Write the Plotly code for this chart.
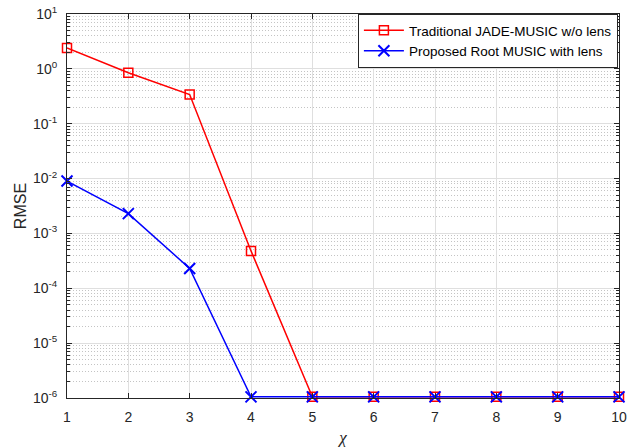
import plotly.graph_objects as go

# Spatial sampling factor chi
chi = [1, 2, 3, 4, 5, 6, 7, 8, 9, 10]

# RMSE of each estimator
rmse_jade = [2.4, 0.85, 0.34, 4.8e-4, 1.05e-6, 1.05e-6, 1.05e-6, 1.05e-6, 1.05e-6, 1.05e-6]
rmse_root = [9.0e-3, 2.3e-3, 2.3e-4, 1.05e-6, 1.05e-6, 1.05e-6, 1.05e-6, 1.05e-6, 1.05e-6, 1.05e-6]

# Axis tick labels
x_ticks = chi
y_exponents = [-6, -5, -4, -3, -2, -1, 0, 1]
y_tickvals = [10.0 ** e for e in y_exponents]
y_ticktext = [f"10<sup>{e}</sup>" for e in y_exponents]

fig = go.Figure()
fig.add_trace(go.Scatter(
    x=chi, y=rmse_jade, mode="lines+markers",
    name="Traditional JADE-MUSIC w/o lens",
    line=dict(color="#ff0000", width=1.5),
    marker=dict(symbol="square-open", size=9, color="#ff0000", line=dict(width=1.5)),
    cliponaxis=False,
))
fig.add_trace(go.Scatter(
    x=chi, y=rmse_root, mode="lines+markers",
    name="Proposed Root MUSIC with lens",
    line=dict(color="#0000ff", width=1.5),
    marker=dict(symbol="x-thin-open", size=11, color="#0000ff", line=dict(width=2, color="#0000ff")),
    cliponaxis=False,
))

axis_font = dict(family="Liberation Sans, Arial, sans-serif", size=14, color="#262626")

fig.update_layout(
    width=639, height=447,
    margin=dict(l=67, r=20, t=14, b=49),
    paper_bgcolor="white", plot_bgcolor="white",
    font=axis_font,
    showlegend=True,
    legend=dict(
        x=0.998, y=1.0, xanchor="right", yanchor="top",
        bgcolor="white", bordercolor="#262626", borderwidth=1,
        font=dict(family="Liberation Sans, Arial, sans-serif", size=13.5, color="black"),
        tracegroupgap=0, itemwidth=40,
    ),
)

fig.update_xaxes(
    range=[1, 10], tickvals=x_ticks, ticktext=[str(v) for v in x_ticks],
    showline=True, linecolor="#262626", linewidth=1, mirror="ticks",
    ticks="inside", ticklen=5, tickcolor="#262626", ticklabelstandoff=6,
    showgrid=True, gridcolor="#dfdfdf", gridwidth=1,
    zeroline=False, tickfont=axis_font, automargin=False,
    title=dict(text="<i>χ</i>", font=dict(family="Liberation Serif, Times New Roman, serif", size=17, color="#262626"), standoff=8),
)
fig.update_yaxes(
    type="log", range=[-6, 1],
    tickvals=y_tickvals, ticktext=y_ticktext,
    showline=True, linecolor="#262626", linewidth=1, mirror="ticks",
    ticks="inside", ticklen=5, tickcolor="#262626", ticklabelstandoff=6,
    showgrid=True, gridcolor="#dfdfdf", gridwidth=1,
    zeroline=False, tickfont=axis_font, automargin=False,
    minor=dict(dtick="D1", ticks="inside", ticklen=3, tickcolor="#262626",
               showgrid=True, gridcolor="#c4c4c4", griddash="1px,2px", gridwidth=1),
    title=dict(text="RMSE", font=dict(family="Liberation Sans, Arial, sans-serif", size=16, color="#262626"), standoff=2),
)

fig.write_html("out.html")
